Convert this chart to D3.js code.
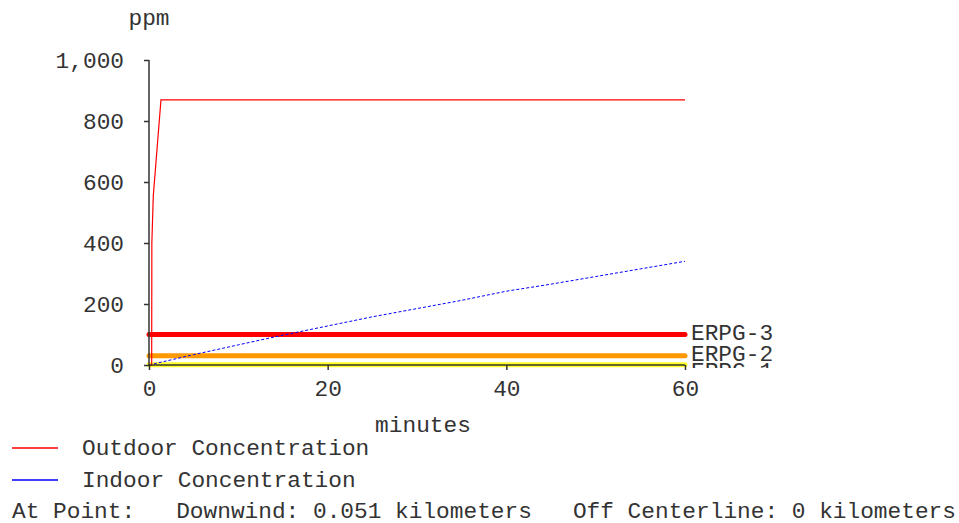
<!DOCTYPE html>
<html>
<head>
<meta charset="utf-8">
<script src="https://cdn.jsdelivr.net/npm/d3@7"></script>
<style>
   body { margin: 0; background: #fff; }
   svg text { font-family: "Courier New", "Liberation Mono", monospace; font-size: 22.8px; fill: #333; white-space: pre; }
</style>
</head>
<body>
<div id="chart"></div>
<script>
// values
const outdoorTime = [0, 0.3, 0.32, 0.48, 1.34, 60];
const outdoorPpm = [0, 0, 400, 555, 869, 869];

const indoorTime = [0, 5, 10, 15, 20, 25, 30, 35, 40, 45, 50, 55, 60];
const indoorPpm = [0, 34, 66, 98, 128, 158, 185, 212, 242, 265, 290, 315, 340];

const erpgLabels = ['ERPG-3', 'ERPG-2', 'ERPG-1'];
const erpgValues = [100, 30, 1];
const erpgColors = ['#ff0000', '#ff9900', '#ffff00'];

const xTicks = [0, 20, 40, 60];
const yTicks = [0, 200, 400, 600, 800, 1000];

const legendLabels = ['Outdoor Concentration', 'Indoor Concentration'];
const legendColors = ['#ff0000', '#0000ff'];
const footer = 'At Point:   Downwind: 0.051 kilometers   Off Centerline: 0 kilometers';

const width = 959, height = 523;
const font = '"Courier New", "Liberation Mono", monospace';

const svg = d3.select('#chart')
   .append('svg')
   .attr('width', width)
   .attr('height', height);

const x = d3.scaleLinear().domain([0, 60]).range([149, 685]);
const y = d3.scaleLinear().domain([0, 1000]).range([365, 60]);

svg.append('defs').append('clipPath')
   .attr('id', 'plotclip')
   .append('rect')
   .attr('x', 140).attr('y', 0)
   .attr('width', 700).attr('height', 368);

const plot = svg.append('g').attr('clip-path', 'url(#plotclip)');

const erpg = erpgLabels.map((label, i) => ({ label: label, value: erpgValues[i], color: erpgColors[i] }));

// label positions: just above the line, pushed down so they don't collide
let lastY = -Infinity;
for (const d of erpg) {
   d.ly = Math.max(y(d.value) - 2, lastY + 17);
   lastY = d.ly;
}

plot.selectAll('.erpg')
   .data(erpg.slice().reverse())
   .enter()
   .append('line')
   .attr('class', 'erpg')
   .attr('x1', x(0)).attr('x2', x(60))
   .attr('y1', d => y(d.value)).attr('y2', d => y(d.value))
   .attr('stroke', d => d.color)
   .attr('stroke-width', 5)
   .attr('stroke-linecap', 'round')
   .attr('opacity', d => d.label === 'ERPG-1' ? 0.85 : 1);

plot.selectAll('.erpg-label')
   .data(erpg)
   .enter()
   .append('text')
   .attr('class', 'erpg-label')
   .attr('x', x(60) + 6)
   .attr('y', d => d.ly)
   .attr('dy', '0.32em')
   .text(d => d.label);

const line = d3.line()
   .x(d => x(d[0]))
   .y(d => y(d[1]));

plot.append('path')
   .datum(indoorTime.map((t, i) => [t, indoorPpm[i]]))
   .attr('d', line)
   .attr('fill', 'none')
   .attr('stroke', '#0000ff')
   .attr('stroke-width', 1)
   .attr('stroke-dasharray', '3,2');

plot.append('path')
   .datum(outdoorTime.map((t, i) => [t, outdoorPpm[i]]))
   .attr('d', line)
   .attr('fill', 'none')
   .attr('stroke', '#ff0000')
   .attr('stroke-width', 1.2);

// axes
const xAxis = svg.append('g')
   .attr('transform', 'translate(0,' + y(0) + ')')
   .call(d3.axisBottom(x).tickValues(xTicks).tickSize(5).tickPadding(10));

const yAxis = svg.append('g')
   .attr('transform', 'translate(' + x(0) + ',0)')
   .call(d3.axisLeft(y).tickValues(yTicks).tickSize(5).tickPadding(20).tickFormat(d3.format(',')));

for (const ax of [xAxis, yAxis]) {
   ax.select('.domain').attr('stroke', '#333').attr('stroke-width', 1.5);
   ax.selectAll('.tick line').attr('stroke', '#333').attr('stroke-width', 1.5);
   ax.selectAll('.tick text')
      .attr('fill', '#333')
      .style('font-family', font)
      .style('font-size', '22.8px');
}
xAxis.select('.domain').attr('d', 'M' + x(0) + ',0H' + x(60));
yAxis.select('.domain').attr('d', 'M0,' + y(0) + 'V' + y(1000));

svg.append('text')
   .attr('x', x(0))
   .attr('y', 25)
   .attr('text-anchor', 'middle')
   .text('ppm');

svg.append('text')
   .attr('x', 423)
   .attr('y', 432)
   .attr('text-anchor', 'middle')
   .text('minutes');

// legend
const legend = svg.selectAll('.legend')
   .data(legendLabels)
   .enter()
   .append('g')
   .attr('class', 'legend')
   .attr('transform', (d, i) => 'translate(0,' + (448 + i * 32) + ')');

legend.append('line')
   .attr('x1', 12).attr('x2', 58)
   .attr('y1', 0).attr('y2', 0)
   .attr('stroke', (d, i) => legendColors[i])
   .attr('stroke-width', 1.5);

legend.append('text')
   .attr('x', 82)
   .attr('dy', '0.32em')
   .text(d => d);

svg.append('text')
   .attr('x', 12)
   .attr('y', 511)
   .attr('dy', '0.32em')
   .text(footer);
</script>
</body>
</html>
